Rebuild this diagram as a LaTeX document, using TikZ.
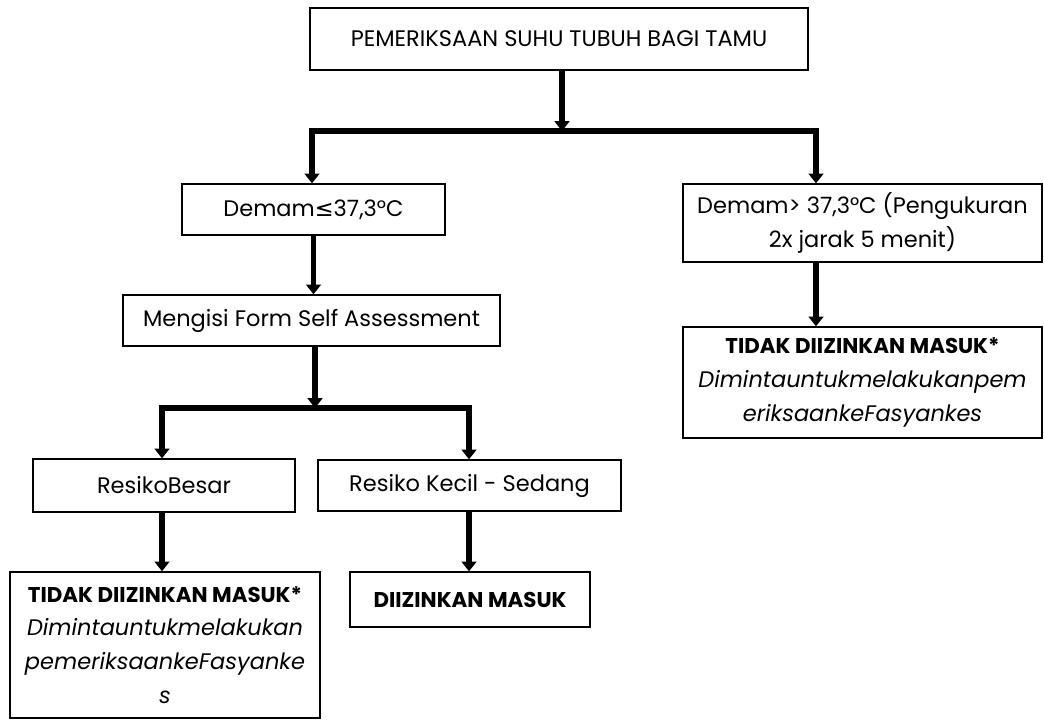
\documentclass[tikz,border=0pt]{standalone}
\usepackage{fontspec}
\setmainfont{Poppins}
\newfontfamily\symfont{DejaVu Sans}
\usetikzlibrary{arrows.meta,calc}

\newcommand{\bfline}[1]{{\fontsize{15.2}{24}\selectfont\bfseries #1}}

\begin{document}
\begin{tikzpicture}[x=0.025cm,y=-0.025cm,
    box/.style={draw, line width=0.9pt, align=center, inner sep=2pt,
        font=\fontsize{16}{24}\selectfont},
    arr/.style={line width=4pt, -{Triangle[width=10.5pt,length=7pt]}},
    bar/.style={line width=4.5pt, line cap=rect}]
    % page frame
    \useasboundingbox (0,0) rectangle (1044,720);

    % boxes
    \node[box, minimum width=12.45cm, minimum height=1.55cm] (top) at (559,39)
        {PEMERIKSAAN SUHU TUBUH BAGI TAMU};
    \node[box, minimum width=6.575cm, minimum height=1.275cm] (dlow) at (313.5,209.5)
        {Demam{\symfont ≤}37,3°C};
    \node[box, minimum width=9.425cm, minimum height=1.275cm] (form) at (311.5,320.5)
        {Mengisi Form Self Assessment};
    \node[box, minimum width=8.975cm, minimum height=1.95cm] (dhigh) at (862.5,223)
        {Demam> 37,3°C (Pengukuran\\2x jarak 5 menit)};
    \node[box, minimum width=8.975cm, minimum height=2.775cm] (tidakR) at (862.5,382.5)
        {\bfline{TIDAK DIIZINKAN MASUK*}\\\textit{Dimintauntukmelakukanpem}\\\textit{eriksaankeFasyankes}};
    \node[box, minimum width=6.55cm, minimum height=1.325cm] (besar) at (164,485.5)
        {ResikoBesar};
    \node[box, minimum width=7.575cm, minimum height=1.275cm] (kecil) at (469.5,485.5)
        {Resiko Kecil - Sedang};
    \node[box, minimum width=7.75cm, minimum height=3.65cm] (tidakL) at (165,645)
        {\bfline{TIDAK DIIZINKAN MASUK*}\\\textit{Dimintauntukmelakukan}\\\textit{pemeriksaankeFasyanke}\\\textit{s}};
    \node[box, minimum width=6cm, minimum height=1.375cm] (masuk) at (470,599.5)
        {\bfline{DIIZINKAN MASUK}};

    % junctions
    \coordinate (j1) at (562,131);
    \coordinate (b1L) at (312,131);
    \coordinate (b1R) at (816,131);
    \coordinate (j2) at (315,408);
    \coordinate (b2L) at (162,408);
    \coordinate (b2R) at (469,408);

    % first split
    \draw[arr] (top.south -| j1) -- (j1);
    \draw[bar] (b1L) -- (b1R);
    \draw[arr] (b1L) -- (dlow.north -| b1L);
    \draw[arr] (b1R) -- (dhigh.north -| b1R);

    % left branch
    \draw[arr] (dlow.south) -- (form.north -| dlow.south);
    \draw[arr] (form.south -| j2) -- (j2);
    \draw[bar] (b2L) -- (b2R);
    \draw[arr] (b2L) -- (besar.north -| b2L);
    \draw[arr] (b2R) -- (kecil.north -| b2R);
    \draw[arr] (besar.south -| b2L) -- (tidakL.north -| b2L);
    \draw[arr] (kecil.south -| b2R) -- (masuk.north -| b2R);

    % right branch
    \draw[arr] (dhigh.south -| b1R) -- (tidakR.north -| b1R);
\end{tikzpicture}
\end{document}
